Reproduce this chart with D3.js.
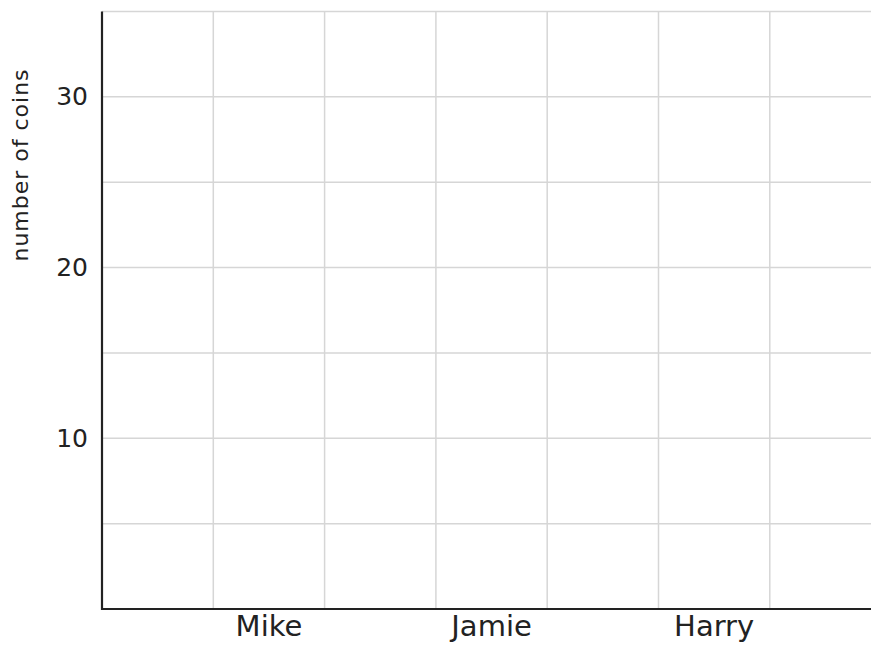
<!DOCTYPE html>
<html>
<head>
<meta charset="utf-8">
<script src="https://cdn.jsdelivr.net/npm/d3@7"></script>
<style>
  body { margin: 0; background: #fff; }
  text { font-family: "Comic Sans MS", "DejaVu Sans", sans-serif; fill: #222; }
</style>
</head>
<body>
<svg id="chart" width="871" height="645"></svg>
<script>
// x slots: blank columns sit between the named ones
let slots = ["s0", "Mike", "s2", "Jamie", "s4", "Harry", "s6"];
let categories = ["Mike", "Jamie", "Harry"];
let values = [null, null, null]; // nothing plotted yet, the chart is blank
let yTicks = [10, 20, 30];
let yGrid = [5, 10, 15, 20, 25, 30, 35];
let yTitle = "number of coins";

let svg = d3.select("#chart");
let plotLeft = 102, plotBottom = 609, plotTop = 11.5;

let x = d3.scaleBand().domain(slots).range([plotLeft, plotLeft + 7 * 111.3]);
let y = d3.scaleLinear().domain([0, 35]).range([plotBottom, plotTop]);

// grid
let grid = svg.append("g");
grid.selectAll(".hg").data(yGrid).enter().append("line")
  .attr("x1", plotLeft).attr("x2", 871)
  .attr("y1", d => y(d)).attr("y2", d => y(d))
  .style("stroke", "#d6d6d6").style("stroke-width", 1.5);
grid.selectAll(".vg").data(slots.slice(1)).enter().append("line")
  .attr("x1", d => x(d)).attr("x2", d => x(d))
  .attr("y1", plotTop).attr("y2", plotBottom)
  .style("stroke", "#d6d6d6").style("stroke-width", 1.5);

// y axis
let yAxis = svg.append("g").attr("transform", "translate(" + plotLeft + ",0)")
  .call(d3.axisLeft(y).tickValues(yTicks).tickSize(0).tickPadding(14));
yAxis.select(".domain").remove();
yAxis.selectAll("text").style("font-size", "25px").style("fill", "#222")
  .style("font-family", "\"Comic Sans MS\", \"DejaVu Sans\", sans-serif");

// x axis (labels sit in the middle of their column)
let xAxis = svg.append("g").attr("transform", "translate(0," + plotBottom + ")")
  .call(d3.axisBottom(x).tickValues(categories).tickSize(0).tickPadding(6));
xAxis.select(".domain").remove();
xAxis.selectAll("text").style("font-size", "29px").style("fill", "#222")
  .style("font-family", "\"Comic Sans MS\", \"DejaVu Sans\", sans-serif");

// axis lines
svg.append("line").attr("x1", plotLeft).attr("x2", plotLeft).attr("y1", plotTop).attr("y2", plotBottom + 1)
  .style("stroke", "#222").style("stroke-width", 2.2);
svg.append("line").attr("x1", plotLeft - 1).attr("x2", 871).attr("y1", plotBottom).attr("y2", plotBottom)
  .style("stroke", "#222").style("stroke-width", 2.2);

// y title
svg.append("text")
  .attr("transform", "translate(28,165) rotate(-90)")
  .attr("text-anchor", "middle")
  .style("font-size", "22px")
  .style("letter-spacing", "1px")
  .text(yTitle);
</script>
</body>
</html>
